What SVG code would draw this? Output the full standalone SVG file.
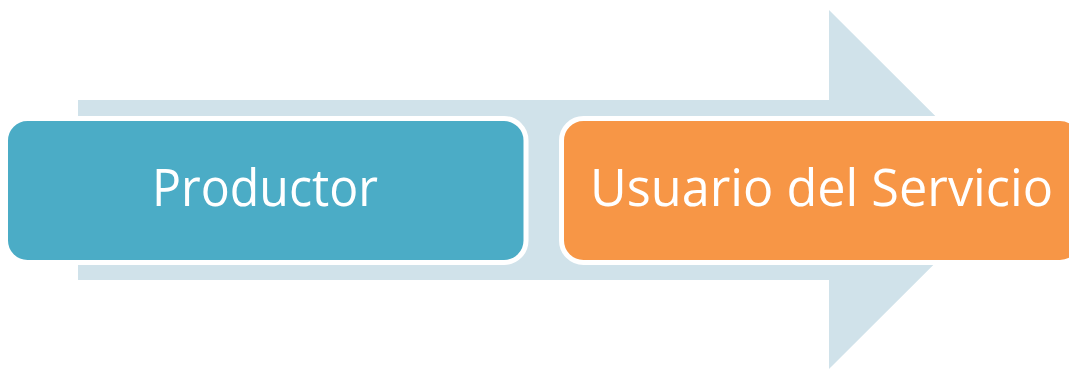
<svg xmlns="http://www.w3.org/2000/svg" width="1069" height="369" viewBox="0 0 1069 369">
<style>
.box{stroke:#FFFFFF;stroke-width:5}
.lbl{font-family:"Open Sans","Liberation Sans",sans-serif;font-size:51px;fill:#FFFFFF;text-anchor:middle}
</style>
<rect width="1069" height="369" fill="#FFFFFF"/>
<g id="arrow">
<path d="M78,100 L829,100 L829,10 L1009,189.5 L829,369 L829,280 L78,280 Z" fill="#D0E2EA"/>
</g>
<g id="connectors"></g>
<g id="productor">
<rect class="box" x="5.5" y="118.5" width="520.5" height="144" rx="22" fill="#4BACC6"/>
<text class="lbl" x="265" y="206" textLength="226" lengthAdjust="spacingAndGlyphs">Productor</text>
</g>
<g id="usuario">
<rect class="box" x="561.5" y="118.5" width="520.5" height="144" rx="22" fill="#F79646"/>
<text class="lbl" x="821.5" y="206" textLength="463" lengthAdjust="spacingAndGlyphs">Usuario del Servicio</text>
</g>
</svg>
